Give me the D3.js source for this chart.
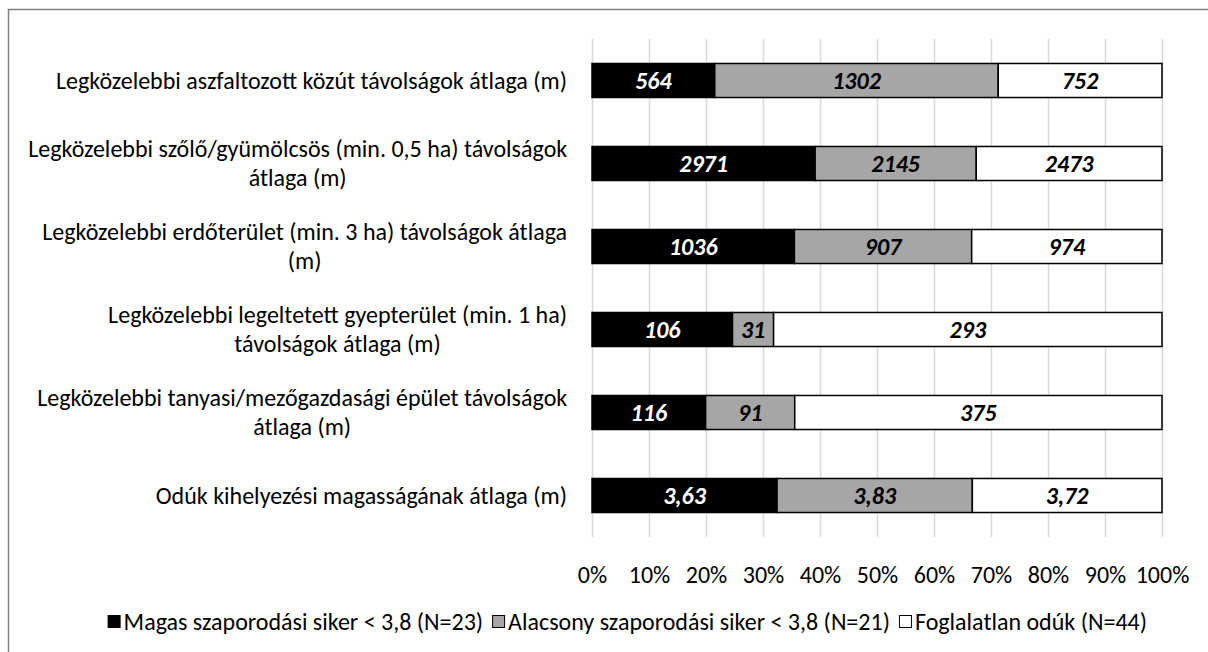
<!DOCTYPE html>
<html>
<head>
<meta charset="utf-8">
<script src="https://cdn.jsdelivr.net/npm/d3@7"></script>
<style>
  body { margin: 0; background: #fff; }
  svg text { font-family: Calibri, Carlito, Lato, sans-serif; }
</style>
</head>
<body>
<svg id="chart" width="1208" height="652"></svg>
<script>
// categories (each entry = wrapped lines of the label)
var categories = [
  ["Legközelebbi aszfaltozott közút távolságok átlaga (m)"],
  ["Legközelebbi szőlő/gyümölcsös (min. 0,5 ha) távolságok", "átlaga (m)"],
  ["Legközelebbi erdőterület (min. 3 ha) távolságok átlaga", "(m)"],
  ["Legközelebbi legeltetett gyepterület (min. 1 ha)", "távolságok átlaga (m)"],
  ["Legközelebbi tanyasi/mezőgazdasági épület távolságok", "átlaga (m)"],
  ["Odúk kihelyezési magasságának átlaga (m)"]
];

var seriesNames = [
  "Magas szaporodási siker < 3,8 (N=23)",
  "Alacsony szaporodási siker < 3,8 (N=21)",
  "Foglalatlan odúk (N=44)"
];

var magas       = [564, 2971, 1036, 106, 116, 3.63];
var alacsony    = [1302, 2145, 907, 31, 91, 3.83];
var foglalatlan = [752, 2473, 974, 293, 375, 3.72];

var tickValues = [0, 0.1, 0.2, 0.3, 0.4, 0.5, 0.6, 0.7, 0.8, 0.9, 1];

var colors = ["#000000", "#a6a6a6", "#ffffff"];
var labelColors = ["#ffffff", "#000000", "#000000"];

var svg = d3.select("#chart");

// pick a font size so the longest label line is as wide as in the original
var probe = svg.append("text").attr("font-size", 20).text(categories[1][0]);
var fs = 20 * 539 / probe.node().getComputedTextLength();
probe.remove();

// chart frame
svg.append("path")
    .attr("d", "M8.5,652V9.5H1208")
    .attr("fill", "none")
    .attr("stroke", "#7f7f7f")
    .attr("stroke-width", 1.5);

var x = d3.scaleLinear().domain([0, 1]).range([592, 1162]);

var y = d3.scaleBand()
    .domain(d3.range(categories.length))
    .range([39, 537])
    .paddingInner(0.59)
    .paddingOuter(0.295);

var hu = d3.formatLocale({decimal: ",", thousands: " ", grouping: [3], currency: ["", " Ft"]});
function fmt(v) {
  return Number.isInteger(v) ? String(v) : hu.format(".2f")(v);
}

// stack the three series, normalised per row
var rows = categories.map(function(c, i) {
  return {i: i, s0: magas[i], s1: alacsony[i], s2: foglalatlan[i]};
});
var stack = d3.stack().keys(["s0", "s1", "s2"]).offset(d3.stackOffsetExpand);
var layers = stack(rows);

// gridlines
svg.append("g")
  .selectAll("line")
  .data(tickValues)
  .join("line")
    .attr("x1", function(d) { return Math.round(x(d)) + 0.5; })
    .attr("x2", function(d) { return Math.round(x(d)) + 0.5; })
    .attr("y1", y.range()[0])
    .attr("y2", y.range()[1])
    .attr("stroke", "#d9d9d9")
    .attr("stroke-width", 1.5);

// bars
var layer = svg.append("g")
  .selectAll("g")
  .data(layers)
  .join("g")
    .attr("fill", function(d, k) { return colors[k]; });

layer.selectAll("rect")
  .data(function(d) { return d; })
  .join("rect")
    .attr("x", function(d) { return x(d[0]); })
    .attr("y", function(d) { return y(d.data.i); })
    .attr("width", function(d) { return x(d[1]) - x(d[0]); })
    .attr("height", y.bandwidth())
    .attr("stroke", "#000")
    .attr("stroke-width", 1.5);

// value labels
layers.forEach(function(l, k) {
  svg.append("g")
    .selectAll("text")
    .data(l)
    .join("text")
      .attr("x", function(d) { return (x(d[0]) + x(d[1])) / 2; })
      .attr("y", function(d) { return y(d.data.i) + y.bandwidth() / 2; })
      .attr("dy", "0.35em")
      .attr("text-anchor", "middle")
      .attr("font-size", fs)
      .attr("font-weight", "bold")
      .attr("font-style", "italic")
      .attr("fill", labelColors[k])
      .text(function(d) { return fmt(d.data["s" + k]); });
});

// category labels, right aligned block, lines centred
var lineH = fs * 1.2, labelRight = 567;
categories.forEach(function(lines, i) {
  var t = svg.append("text")
      .attr("font-size", fs)
      .attr("fill", "#000")
      .attr("text-anchor", "middle");
  var spans = t.selectAll("tspan")
    .data(lines)
    .join("tspan")
      .text(function(d) { return d; });
  var w = 0;
  spans.each(function() { w = Math.max(w, this.getComputedTextLength()); });
  var cy = y(i) + y.bandwidth() / 2 - (lines.length - 1) * lineH / 2;
  spans
    .attr("x", labelRight - w / 2)
    .attr("y", function(d, j) { return cy + j * lineH; })
    .attr("dy", "0.35em");
});

// x axis tick labels
var xAxis = d3.axisBottom(x)
    .tickValues(tickValues)
    .tickFormat(d3.format(".0%"))
    .tickSize(0)
    .tickPadding(0);

var ax = svg.append("g")
    .attr("transform", "translate(0,575)")
    .attr("font-family", null)
    .call(xAxis);
ax.select(".domain").remove();
ax.selectAll("text")
    .attr("font-size", fs)
    .attr("fill", "#000")
    .attr("dy", "0.35em");

// legend, ends where the original ends
var legend = svg.append("g").attr("font-size", fs);
var items = [];
seriesNames.forEach(function(name, k) {
  var g = legend.append("g");
  g.append("rect")
    .attr("x", 0.5).attr("y", -6.5)
    .attr("width", 12).attr("height", 12)
    .attr("fill", colors[k])
    .attr("stroke", "#000")
    .attr("stroke-width", 1);
  var t = g.append("text")
    .attr("x", 16).attr("dy", "0.35em")
    .attr("fill", "#000")
    .text(name);
  items.push({g: g, w: 16 + t.node().getComputedTextLength()});
});
var gap = 9;
var total = d3.sum(items, function(d) { return d.w; }) + gap * (items.length - 1);
var lx = 1147 - total;
items.forEach(function(it) {
  it.g.attr("transform", "translate(" + lx + ",622)");
  lx += it.w + gap;
});
</script>
</body>
</html>
